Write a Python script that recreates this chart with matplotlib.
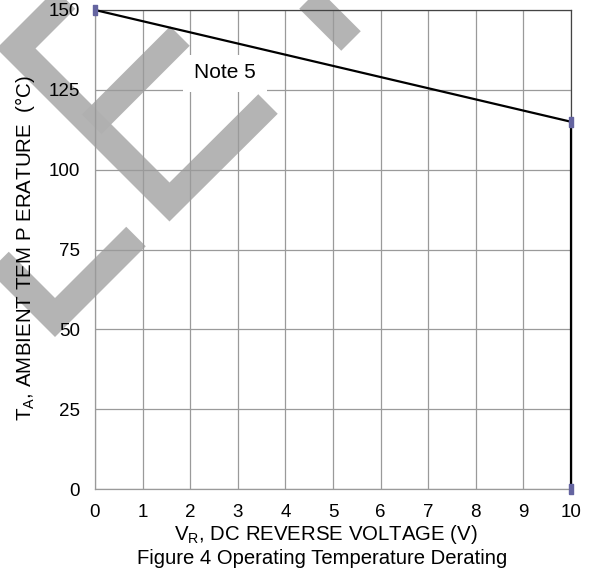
import matplotlib
matplotlib.use("Agg")
import matplotlib.pyplot as plt
import numpy as np
from matplotlib.patches import Rectangle
from matplotlib.transforms import IdentityTransform

plt.rcParams["font.family"] = ["Liberation Sans", "DejaVu Sans"]
plt.rcParams["mathtext.fontset"] = "custom"
plt.rcParams["mathtext.rm"] = "Liberation Sans"

# derating curve
vr = [0, 10, 10]
ta = [150, 115, 0]

x_ticks = list(range(0, 11))
y_ticks = [0, 25, 50, 75, 100, 125, 150]

note_text = "Note 5"
x_label = r"V$_\mathregular{R}$, DC REVERSE VOLTAGE (V)"
y_label = r"T$_\mathregular{A}$, AMBIENT TEM P ERATURE  (°C)"
caption = "Figure 4 Operating Temperature Derating"

W, H, dpi = 592, 571, 100
fig = plt.figure(figsize=(W / dpi, H / dpi), dpi=dpi)
ax = fig.add_axes([95 / W, 1 - 489 / H, 476 / W, 479 / H])

ax.set_xlim(0, 10)
ax.set_ylim(0, 150)
ax.set_xticks(x_ticks)
ax.set_yticks(y_ticks)
ax.tick_params(length=0, labelsize=13.5, pad=11)
ax.grid(True, color="#9a9a9a", linewidth=0.9)

for side in ["left", "bottom"]:
    ax.spines[side].set_color("#9a9a9a")
    ax.spines[side].set_linewidth(0.9)
for side in ["top", "right"]:
    ax.spines[side].set_color("#444444")
    ax.spines[side].set_linewidth(0.9)

# white box behind the note
ax.add_patch(Rectangle((1.85, 124.3), 1.76, 11.6, facecolor="white",
                       edgecolor="none", zorder=2))
ax.text(2.73, 130.3, note_text, fontsize=15, ha="center", va="center", zorder=3)

marker = [(-0.5, -1), (0.5, -1), (0.5, 1), (-0.5, 1), (-0.5, -1)]
ax.plot(vr, ta, color="black", linewidth=1.6, zorder=4, clip_on=False)
ax.plot(vr, ta, linestyle="none", marker=marker, markersize=6.5,
        color="#6464a0", zorder=5, clip_on=False)

# grey "obsolete" watermark strokes (image pixel coords)
def stroke(pts, cap="butt"):
    xs = [p[0] for p in pts]
    ys = [H - p[1] for p in pts]
    ax.plot(xs, ys, transform=IdentityTransform(), color="#b0b0b0",
            linewidth=27.6 * 72 / dpi, solid_capstyle=cap,
            solid_joinstyle="miter", zorder=1, clip_on=False, alpha=0.95)

stroke([(96, -31.5), (16, 48.5), (169.5, 202), (268, 104)])
stroke([(91.75, 124.25), (180, 36)])
stroke([(-50, 212.5), (55, 317.5), (136, 236.5)])
stroke([(280, -30), (351, 41)])

fig.text(326 / W, 1 - 535 / H, x_label, fontsize=14.7, ha="center", va="center")
fig.text(322 / W, 1 - 558 / H, caption, fontsize=14.6, ha="center", va="center")
fig.text(25 / W, 1 - 248 / H, y_label, fontsize=14.8, ha="center", va="center",
         rotation=90)

fig.savefig("out.png", dpi=dpi)
